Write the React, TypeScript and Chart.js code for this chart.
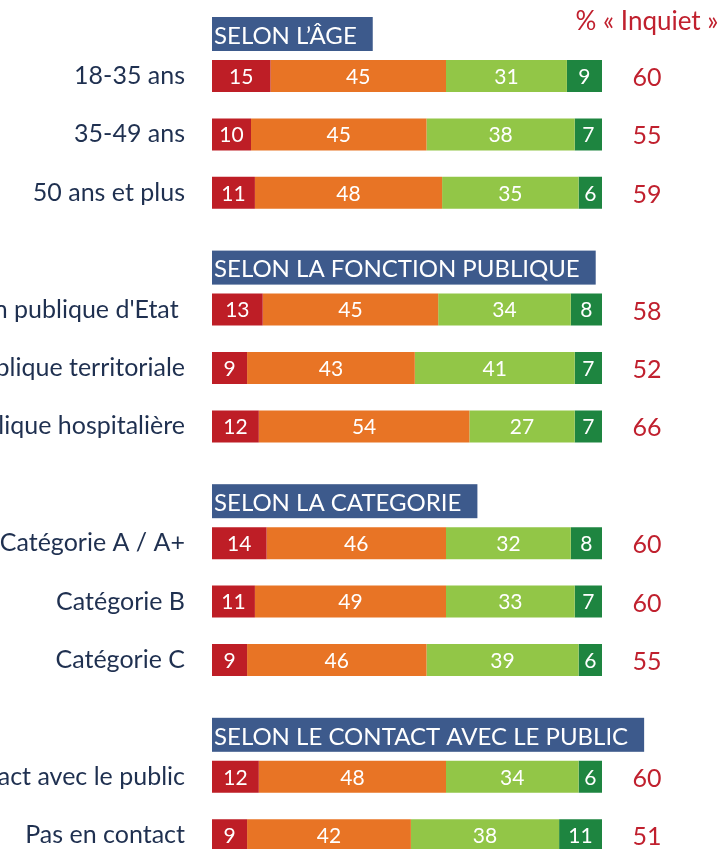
import React, { useEffect, useRef } from "react";
import { Chart, registerables } from "chart.js";

Chart.register(...registerables);

const categories = [
  "18-35 ans",
  "35-49 ans",
  "50 ans et plus",
  "",
  "Fonction publique d'Etat ",
  "Fonction publique territoriale",
  "Fonction publique hospitalière",
  "",
  "Catégorie A / A+",
  "Catégorie B",
  "Catégorie C",
  "",
  "En contact avec le public",
  "Pas en contact",
];

const headers = [
  "SELON L’ÂGE",
  "SELON LA FONCTION PUBLIQUE",
  "SELON LA CATEGORIE",
  "SELON LE CONTACT AVEC LE PUBLIC",
];
const headerFirstRow = [0, 4, 8, 12];

const seriesNames = ["Très inquiet", "Plutôt inquiet", "Plutôt pas inquiet", "Pas du tout inquiet"];
const tresInquiet = [15, 10, 11, null, 13, 9, 12, null, 14, 11, 9, null, 12, 9];
const plutotInquiet = [45, 45, 48, null, 45, 43, 54, null, 46, 49, 46, null, 48, 42];
const plutotPasInquiet = [31, 38, 35, null, 34, 41, 27, null, 32, 33, 39, null, 34, 38];
const pasDuToutInquiet = [9, 7, 6, null, 8, 7, 7, null, 8, 7, 6, null, 6, 11];
const totalInquiet = [60, 55, 59, null, 58, 52, 66, null, 60, 60, 55, null, 60, 51];
const totalTitle = "% « Inquiet »";

const colors = ["#BE1E26", "#E87425", "#92C647", "#1E8540"];
const FONT = "Lato, 'Open Sans', sans-serif";

const overlayPlugin = {
  id: "overlay",
  afterDatasetsDraw(chart: any) {
    const ctx = chart.ctx;
    const area = chart.chartArea;
    ctx.save();
    // values inside bars
    ctx.font = `21px ${FONT}`;
    ctx.fillStyle = "#FFFFFF";
    ctx.textAlign = "center";
    ctx.textBaseline = "middle";
    chart.data.datasets.forEach((ds: any, di: number) => {
      const meta = chart.getDatasetMeta(di);
      meta.data.forEach((el: any, i: number) => {
        const v = ds.data[i];
        if (v == null) return;
        const c = el.getCenterPoint();
        ctx.fillText(String(v), c.x, c.y + 1);
      });
    });
    // total column
    const meta0 = chart.getDatasetMeta(0);
    const colX = area.right + 45;
    ctx.fillStyle = "#C0202E";
    ctx.font = `25px ${FONT}`;
    totalInquiet.forEach((v, i) => {
      if (v == null) return;
      const el = meta0.data[i];
      ctx.fillText(String(v), colX, el.y + 2);
    });
    ctx.font = `26px ${FONT}`;
    ctx.fillText(totalTitle, colX, 22);
    // headers
    ctx.font = `24px ${FONT}`;
    ctx.textAlign = "left";
    headers.forEach((h, k) => {
      const el = meta0.data[headerFirstRow[k]];
      const boxH = 34;
      const bottom = el.y - el.height / 2 - 9;
      const top = bottom - boxH;
      const w = ctx.measureText(h).width + 18;
      ctx.fillStyle = "#3D5A8C";
      ctx.fillRect(area.left, top, w, boxH);
      ctx.fillStyle = "#FFFFFF";
      ctx.fillText(h, area.left + 2, top + boxH / 2 + 2);
    });
    ctx.restore();
  },
};

export default function App() {
  const ref = useRef<HTMLCanvasElement | null>(null);
  useEffect(() => {
    if (!ref.current) return;
    const chart = new Chart(ref.current, {
      type: "bar",
      data: {
        labels: categories,
        datasets: [tresInquiet, plutotInquiet, plutotPasInquiet, pasDuToutInquiet].map((d, i) => ({
          label: seriesNames[i],
          data: d,
          backgroundColor: colors[i],
          borderWidth: 0,
          barPercentage: 1,
          categoryPercentage: 32 / 58.4,
        })),
      },
      options: {
        indexAxis: "y",
        responsive: false,
        animation: false,
        layout: { padding: { top: 46.8, bottom: 15.6, left: 0, right: 120 } },
        plugins: { legend: { display: false }, tooltip: { enabled: false } },
        scales: {
          x: { display: false, stacked: true, min: 0, max: 100 },
          y: {
            stacked: true,
            grid: { display: false, drawTicks: false },
            border: { display: false },
            ticks: {
              padding: 27,
              color: "#1F3050",
              font: { family: FONT, size: 25 },
              autoSkip: false,
            },
            afterFit: (s: any) => {
              s.width = 212;
              s.paddingTop = 0;
              s.paddingBottom = 0;
            },
          },
        },
      },
      plugins: [overlayPlugin],
    });
    return () => chart.destroy();
  }, []);
  return (
    <div style={{ position: "fixed", left: 0, top: 0, width: 722, height: 849, overflow: "hidden", background: "#fff" }}>
      <canvas ref={ref} width={722} height={880} style={{ display: "block" }} />
    </div>
  );
}
